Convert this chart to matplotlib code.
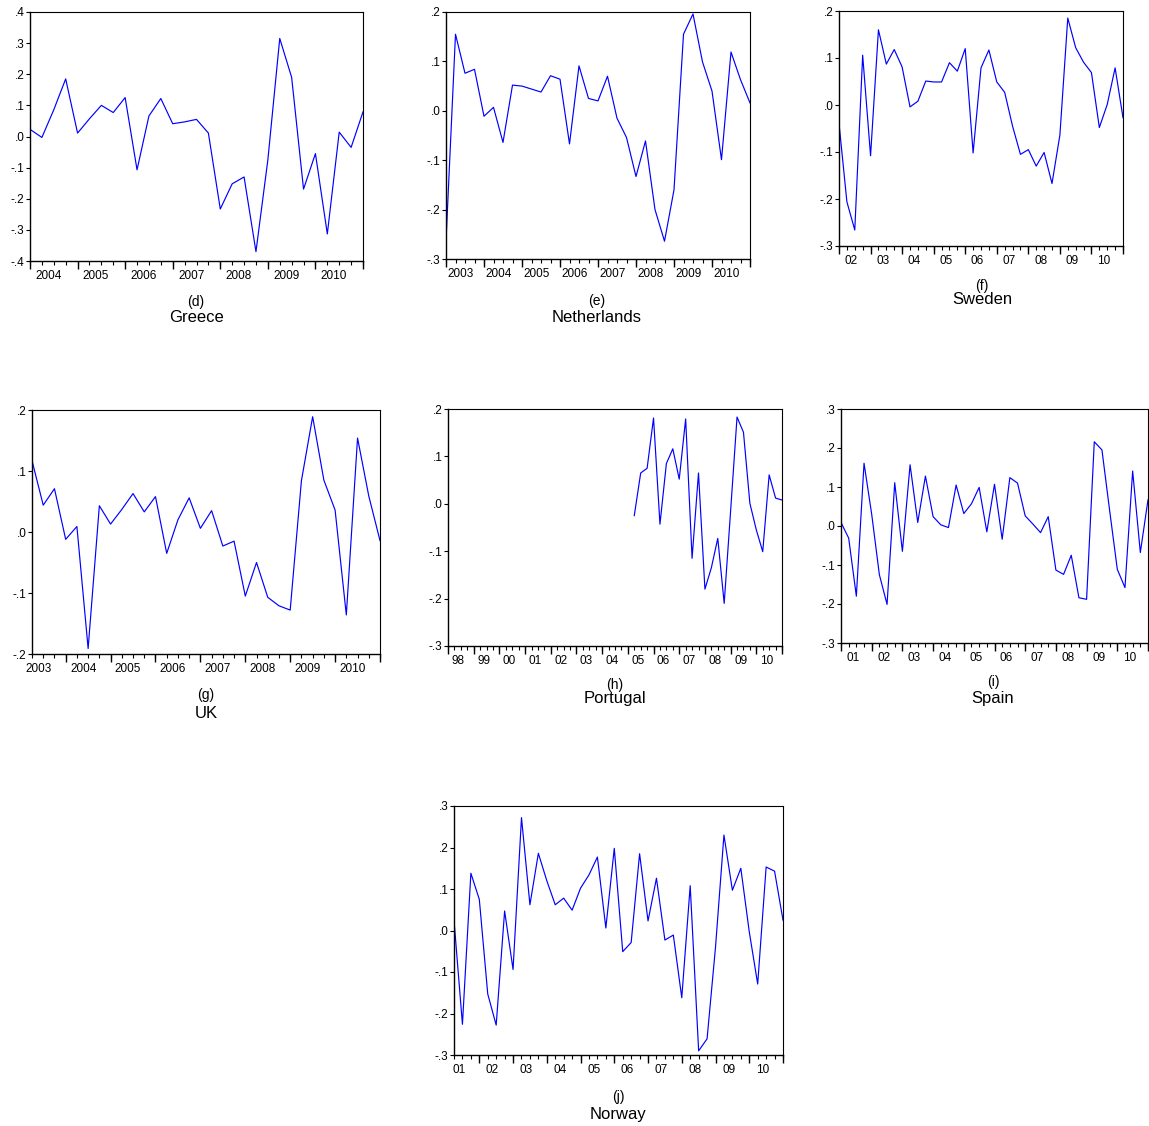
import numpy as np
import matplotlib
matplotlib.use("Agg")
import matplotlib.pyplot as plt
from matplotlib.ticker import FuncFormatter, FixedLocator

plt.rcParams['font.family'] = ['Liberation Sans', 'DejaVu Sans']

# quarterly series, first value at the given start (year + quarter fraction)
greece_start = 2004.0
greece = [0.023, -0.003, 0.086, 0.185, 0.011, 0.057, 0.100, 0.077, 0.125, -0.107,
          0.066, 0.122, 0.041, 0.047, 0.055, 0.011, -0.233, -0.152, -0.130, -0.370,
          -0.075, 0.315, 0.190, -0.169, -0.055, -0.313, 0.014, -0.035, 0.079]

netherlands_start = 2003.0
netherlands = [-0.264, 0.155, 0.076, 0.084, -0.011, 0.007, -0.064, 0.052, 0.050, 0.044,
               0.038, 0.071, 0.064, -0.067, 0.091, 0.025, 0.020, 0.070, -0.015, -0.054,
               -0.133, -0.061, -0.200, -0.264, -0.160, 0.155, 0.196, 0.099, 0.040, -0.099,
               0.119, 0.063, 0.016]

sweden_start = 2002.0
sweden = [-0.039, -0.206, -0.266, 0.106, -0.108, 0.160, 0.087, 0.118, 0.081, -0.004,
          0.008, 0.051, 0.049, 0.049, 0.090, 0.072, 0.120, -0.102, 0.079, 0.117,
          0.049, 0.027, -0.045, -0.105, -0.095, -0.130, -0.101, -0.167, -0.064, 0.185,
          0.122, 0.091, 0.069, -0.048, 0.001, 0.079, -0.027]

uk_start = 2003.25
uk = [0.117, 0.044, 0.071, -0.012, 0.009, -0.191, 0.043, 0.013, 0.037, 0.063,
      0.033, 0.058, -0.035, 0.020, 0.056, 0.006, 0.035, -0.023, -0.015, -0.105,
      -0.050, -0.107, -0.121, -0.128, 0.084, 0.189, 0.085, 0.036, -0.136, 0.154,
      0.059, -0.014]

portugal_start = 2005.25
portugal = [-0.025, 0.065, 0.075, 0.181, -0.043, 0.085, 0.116, 0.052, 0.179, -0.115,
            0.065, -0.180, -0.135, -0.073, -0.210, -0.015, 0.183, 0.151, 0.001, -0.055,
            -0.101, 0.061, 0.012, 0.008]

spain_start = 2001.0
spain = [0.009, -0.031, -0.180, 0.161, 0.030, -0.125, -0.201, 0.111, -0.065, 0.157,
         0.009, 0.128, 0.024, 0.003, -0.004, 0.105, 0.032, 0.057, 0.099, -0.015,
         0.107, -0.034, 0.124, 0.110, 0.026, 0.005, -0.017, 0.024, -0.113, -0.124,
         -0.075, -0.184, -0.188, 0.216, 0.195, 0.040, -0.111, -0.158, 0.141, -0.068,
         0.067]

norway_start = 2001.25
norway = [0.025, -0.226, 0.138, 0.075, -0.153, -0.228, 0.047, -0.094, 0.272, 0.062,
          0.186, 0.120, 0.062, 0.078, 0.049, 0.102, 0.134, 0.177, 0.006, 0.198,
          -0.051, -0.029, 0.185, 0.023, 0.126, -0.023, -0.011, -0.162, 0.108, -0.290,
          -0.261, -0.040, 0.230, 0.097, 0.150, -0.003, -0.129, 0.153, 0.143, 0.025]

W, H = 1149, 1126
END = 2011.0

# (series, start, axis start, first labelled year, y range, long year labels,
#  tag, name, pixel box left/right/top/bottom, caption centre x, tag y, name y)
panels = [
    (greece, greece_start, 2004.0, 2004, (-0.4, 0.4), True, "(d)", "Greece",
     (30, 363, 12, 261), 196, 302, 318),
    (netherlands, netherlands_start, 2003.0, 2003, (-0.3, 0.2), True, "(e)", "Netherlands",
     (446, 750, 12, 259), 597, 301, 318),
    (sweden, sweden_start, 2002.0, 2002, (-0.3, 0.2), False, "(f)", "Sweden",
     (839, 1123, 11, 246), 982, 286, 300),
    (uk, uk_start, 2003.25, 2003, (-0.2, 0.2), True, "(g)", "UK",
     (32, 380, 410, 654), 206, 695, 713),
    (portugal, portugal_start, 1998.0, 1998, (-0.3, 0.2), False, "(h)", "Portugal",
     (448, 782, 409, 646), 615, 685, 699),
    (spain, spain_start, 2001.0, 2001, (-0.3, 0.3), False, "(i)", "Spain",
     (841, 1148, 409, 643), 993, 682, 699),
    (norway, norway_start, 2001.25, 2001, (-0.3, 0.3), False, "(j)", "Norway",
     (454, 783, 806, 1055), 618, 1097, 1115),
]


def ylab(v, pos):
    s = f"{round(v, 2) + 0.0:.1f}"
    if s == "-0.0":
        s = "0.0"
    return s.replace("0.", ".")


fig = plt.figure(figsize=(W / 100, H / 100), dpi=100)
fig.patch.set_facecolor("white")

for vals, start, x0, y0, (ylo, yhi), long_lab, tag, name, box, cx, ty, ny in panels:
    l, r, t, b = box
    ax = fig.add_axes([l / W, 1 - b / H, (r - l) / W, (b - t) / H])
    vals = np.array(vals)
    x = start + np.arange(len(vals)) / 4
    ax.plot(x, vals, color="#0000ff", lw=0.85)

    ax.set_xlim(x0, END)
    ax.set_ylim(ylo, yhi)

    years = np.arange(y0, int(END))
    labels = [str(y) if long_lab else f"{y % 100:02d}" for y in years]
    ax.set_xticks(years + 0.39, labels)
    ax.xaxis.set_minor_locator(FixedLocator(np.arange(x0, END + 0.01, 0.25)))
    ax.tick_params(axis="x", which="major", length=0, pad=6.5, labelsize=8.5)
    ax.tick_params(axis="x", which="minor", length=3, width=0.8, direction="out")

    sec = ax.secondary_xaxis("bottom")
    major = [v for v in np.arange(np.ceil(x0), END + 0.01, 1.0)]
    sec.set_xticks(major, [""] * len(major))
    sec.tick_params(length=5.5, width=1.0, direction="out")
    sec.spines["bottom"].set_visible(False)

    ax.set_yticks(np.round(np.arange(ylo, yhi + 0.001, 0.1), 2))
    ax.yaxis.set_major_formatter(FuncFormatter(ylab))
    ax.tick_params(axis="y", length=3, width=0.8, pad=1, labelsize=8.5)

    for side in ("left", "bottom"):
        ax.spines[side].set_linewidth(1.0)
    for side in ("top", "right"):
        ax.spines[side].set_linewidth(0.8)

    fig.text(cx / W, 1 - ty / H, tag, ha="center", va="center", fontsize=10)
    fig.text(cx / W, 1 - ny / H, name, ha="center", va="center", fontsize=12)

fig.savefig("out.png", dpi=100)
